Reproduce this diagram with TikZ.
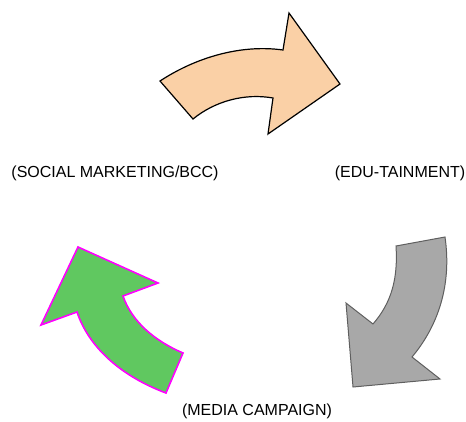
\documentclass[tikz,border=0pt]{standalone}
\usepackage{fontspec}
\setmainfont{Liberation Sans}
\usepackage{xcolor}
\definecolor{peach}{RGB}{250,208,166}
\definecolor{stone}{RGB}{168,168,168}
\definecolor{stoneline}{RGB}{95,95,95}
\definecolor{leaf}{RGB}{96,200,96}
\definecolor{pink}{RGB}{255,0,255}
\usepackage{tikz}

\begin{document}
\begin{tikzpicture}[x=1pt, y=-1pt,
        cycletext/.style={inner sep=0pt, font=\fontsize{16}{19}\selectfont},
        arrowshape/.style={line join=miter}]
            \useasboundingbox (0, 0) rectangle (466, 421);
            % top arrow
            \draw [arrowshape, fill = peach, draw = black, line width = 1.2pt]
                (160, 81) .. controls (195, 58) and (240, 44) .. (283, 50)
                -- (289, 13) -- (340, 84) -- (268, 134) -- (273, 98)
                .. controls (245, 93) and (215, 101) .. (193, 119) -- cycle;
            % right arrow
            \draw [arrowshape, fill = stone, draw = stoneline, line width = 1pt]
                (445, 237) -- (396, 246)
                .. controls (398, 278) and (392, 302) .. (373, 324)
                -- (346, 303) -- (353, 387) -- (440, 379) -- (412, 357)
                .. controls (438, 326) and (452, 285) .. (445, 237) -- cycle;
            % left arrow
            \draw [arrowshape, fill = leaf, draw = pink, line width = 1.6pt]
                (183, 353) -- (166, 393)
                .. controls (118, 375) and (88, 345) .. (77, 312)
                -- (41, 325) -- (78, 247) -- (158, 283) -- (123, 296)
                .. controls (132, 322) and (155, 341) .. (183, 353) -- cycle;
            \node (social) at (115, 173) [cycletext] {(SOCIAL MARKETING/BCC)};
            \node (edu) at (400, 173) [cycletext] {(EDU-TAINMENT)};
            \node (media) at (257, 411) [cycletext] {(MEDIA CAMPAIGN)};
        \end{tikzpicture}
\end{document}
